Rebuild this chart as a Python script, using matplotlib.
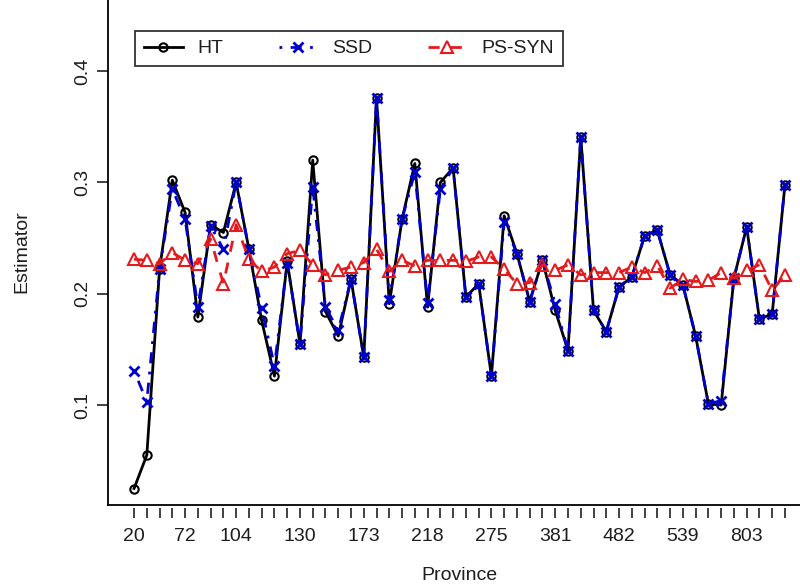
import matplotlib
matplotlib.use("Agg")
import matplotlib.pyplot as plt
import numpy as np

plt.rcParams['font.family'] = ['Liberation Sans', 'DejaVu Sans']

# ---- data ----
ht = [0.025, 0.055, 0.222, 0.302, 0.273, 0.179, 0.262, 0.255, 0.300, 0.240,
      0.176, 0.126, 0.229, 0.155, 0.320, 0.184, 0.162, 0.213, 0.143, 0.376,
      0.191, 0.267, 0.317, 0.188, 0.300, 0.313, 0.197, 0.209, 0.126, 0.270,
      0.236, 0.193, 0.230, 0.185, 0.149, 0.341, 0.185, 0.166, 0.206, 0.215,
      0.252, 0.257, 0.217, 0.208, 0.162, 0.101, 0.100, 0.214, 0.260, 0.177,
      0.182, 0.298]
ssd = [0.131, 0.103, 0.222, 0.294, 0.267, 0.188, 0.261, 0.240, 0.300, 0.240,
       0.187, 0.135, 0.228, 0.155, 0.296, 0.188, 0.167, 0.213, 0.143, 0.376,
       0.194, 0.267, 0.309, 0.192, 0.294, 0.313, 0.197, 0.209, 0.126, 0.264,
       0.236, 0.193, 0.230, 0.191, 0.149, 0.341, 0.185, 0.166, 0.206, 0.215,
       0.252, 0.257, 0.217, 0.208, 0.162, 0.101, 0.104, 0.214, 0.260, 0.177,
       0.182, 0.298]
ps_syn = [0.231, 0.230, 0.227, 0.237, 0.230, 0.227, 0.249, 0.209, 0.262, 0.231,
          0.220, 0.224, 0.236, 0.239, 0.226, 0.217, 0.221, 0.224, 0.228, 0.240,
          0.220, 0.230, 0.225, 0.230, 0.230, 0.230, 0.229, 0.233, 0.233, 0.222,
          0.209, 0.210, 0.226, 0.221, 0.226, 0.217, 0.219, 0.219, 0.219, 0.224,
          0.219, 0.225, 0.205, 0.213, 0.211, 0.212, 0.219, 0.214, 0.221, 0.226,
          0.203, 0.217]
label_index = [0, 4, 8, 13, 18, 23, 28, 33, 38, 43, 48]
province_labels = ['20', '72', '104', '130', '173', '218', '275', '381', '482', '539', '803']
y_ticks = [0.1, 0.2, 0.3, 0.4]

x = np.arange(len(ht))
shown = dict(zip(label_index, province_labels))
tick_text = [shown.get(i, '') for i in range(len(x))]

txt = '#1e1e1e'
blue = '#0000CD'
red = '#E41A1C'
fs = 14

fig = plt.figure(figsize=(8, 5.84), dpi=100)
ax = fig.add_axes([0.135, 0.13527, 0.87875, 0.8682])

ax.plot(x, ht, color='black', lw=2.0, ls='-', marker='o', ms=6,
        mfc='none', mec='black', mew=1.5, label='HT')
ax.plot(x, ssd, color=blue, lw=2.0, ls=(0, (1, 3, 4, 3)), marker='x', ms=7,
        mec=blue, mew=2.0, label='SSD')
ax.plot(x, ps_syn, color=red, lw=2.0, ls=(0, (4, 4)), marker='^', ms=8.5,
        mfc='none', mec=red, mew=1.5, label='PS-SYN')

ax.set_xlim(-2.04, 53.04)
ax.set_ylim(0.0102, 0.4657)

# x axis: tick at every point, labels only where they fit
ax.set_xticks(x)
ax.set_xticklabels(tick_text)
ax.tick_params(axis='x', which='major', bottom=True, direction='out',
               length=7.5, width=1.2, color='#222222', labelsize=fs,
               labelcolor=txt, pad=7)

ax.set_yticks(y_ticks)
ax.set_yticklabels([str(v) for v in y_ticks], rotation=90, va='center')
ax.tick_params(axis='y', direction='out', length=8, width=1.2, color='#222222',
               labelsize=fs, labelcolor=txt, pad=4)

ax.spines['top'].set_visible(False)
ax.spines['right'].set_visible(False)
ax.spines['left'].set_linewidth(1.3)
ax.spines['bottom'].set_position(('outward', 2))
ax.spines['bottom'].set_visible(False)
ax.plot([0, 1], [0, 0], transform=ax.transAxes, color='black', lw=1.3,
        clip_on=False)

ax.set_xlabel('Province', fontsize=fs, color=txt)
ax.xaxis.set_label_coords(0.5, -0.122)
ax.set_ylabel('Estimator', fontsize=fs, color=txt)
ax.yaxis.set_label_coords(-0.11, 0.5)

leg = ax.legend(loc='upper left', bbox_to_anchor=(0.16875, 0.9469),
                bbox_transform=fig.transFigure, ncol=3, fontsize=fs,
                frameon=True, fancybox=False, shadow=False, framealpha=1,
                edgecolor='#333333', borderaxespad=0, borderpad=0.45,
                handlelength=2.0, handletextpad=0.75, columnspacing=2.85)
leg.get_frame().set_linewidth(1.3)
for t in leg.get_texts():
    t.set_color(txt)

fig.savefig('out.png', dpi=100)
